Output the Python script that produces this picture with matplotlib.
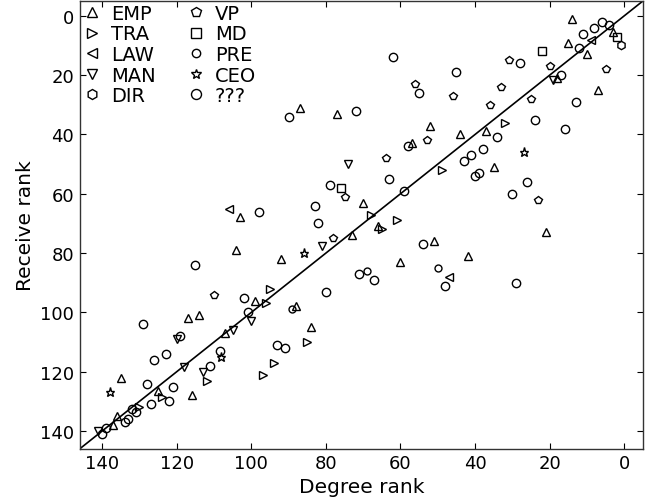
import matplotlib.pyplot as plt
import numpy as np

# (degree rank, receive rank) per role
emp = [(14, 1), (3, 5.4), (15, 9), (10, 13), (18, 21), (7, 25), (77, 33), (87, 31),
       (52, 37), (44, 40), (37, 39), (57, 43), (35, 51), (70, 63), (66, 71), (73, 74),
       (51, 76), (42, 81), (21, 73), (60, 83), (103, 68), (104, 79), (92, 82), (99, 96),
       (88, 98), (84, 105), (107, 107), (117, 102), (114, 101), (135, 122), (125, 126.5),
       (116, 128), (136, 135), (137, 138)]
tra = [(32, 36), (49, 52), (68, 67), (65, 72), (61, 69), (95, 92), (96, 97), (85, 110),
       (94, 117), (97, 121), (112, 123), (130, 132), (124, 128.5)]
law = [(9, 8), (106, 65), (47, 88)]
man = [(19, 21.5), (74, 50), (81, 77.5), (100, 103), (105, 106), (118, 118.5),
       (113, 120), (120, 109), (141, 140)]
dir_ = [(1, 10)]
vp = [(31, 15), (20, 17), (5, 18), (25, 28), (23, 62), (56, 23), (46, 27), (33, 24),
      (36, 30), (53, 42), (64, 48), (75, 61), (78, 75), (110, 94)]
md = [(2, 7), (22, 12), (76, 58)]
pre = [(50, 85), (69, 86), (89, 99)]
ceo = [(27, 46), (86, 80), (108, 115), (138, 127)]
unk = [(11, 6), (8, 4), (6, 2), (4, 3), (12, 11), (28, 16), (17, 20), (13, 29), (24, 35),
       (16, 38), (26, 56), (30, 60), (34, 41), (29, 90), (62, 14), (45, 19), (55, 26),
       (72, 32), (58, 44), (63, 55), (43, 49), (41, 47), (38, 45), (40, 54), (39, 53),
       (59, 59), (79, 57), (54, 77), (71, 87), (67, 89), (48, 91), (80, 93), (90, 34),
       (98, 66), (83, 64), (82, 70), (102, 95), (101, 100), (93, 111), (91, 112),
       (108.5, 113), (115, 84), (129, 104), (119, 108), (126, 116), (123, 114), (128, 124),
       (121, 125), (111, 118), (127, 131), (122, 130), (132, 132.6), (131, 133.6),
       (133, 136), (134, 137), (139, 139), (140, 141)]

groups = [('EMP', emp, '^', 6), ('TRA', tra, '>', 6), ('LAW', law, '<', 6),
          ('MAN', man, 'v', 6), ('DIR', dir_, 'h', 6), ('VP', vp, 'p', 6),
          ('MD', md, 's', 5.5), ('PRE', pre, 'o', 5), ('CEO', ceo, '*', 6.5),
          ('???', unk, 'o', 6)]

plt.rcParams['font.family'] = 'DejaVu Sans'
fig = plt.figure(figsize=(6.54, 5.02), dpi=100)
ax = fig.add_axes([0.122, 0.104, 0.861, 0.892])

for name, pts, m, ms in groups:
    pts = np.array(pts, dtype=float)
    ax.plot(pts[:, 0], pts[:, 1], linestyle='none', marker=m, ms=ms,
            mfc='none', mec='black', mew=1.0, label=name)

ax.plot([146, -5], [146, -5], color='black', lw=1.2)

ax.set_xlim(146, -5)
ax.set_ylim(146, -5)
ax.set_xticks([140, 120, 100, 80, 60, 40, 20, 0])
ax.set_yticks([0, 20, 40, 60, 80, 100, 120, 140])
ax.tick_params(direction='in', top=True, right=True, length=4, labelsize=13, pad=4)
for s in ax.spines.values():
    s.set_linewidth(1.0)
    s.set_color('#333333')

ax.set_xlabel('Degree rank', fontsize=14.5, labelpad=3)
ax.set_ylabel('Receive rank', fontsize=14.5, labelpad=4)

ax.legend(loc='upper left', ncol=2, frameon=False, numpoints=1, fontsize=14,
          markerscale=1.2, handlelength=1.0, handletextpad=0.45, labelspacing=0.08,
          columnspacing=1.6, borderaxespad=0.0, borderpad=0.15)

fig.savefig('out.png', dpi=100)
